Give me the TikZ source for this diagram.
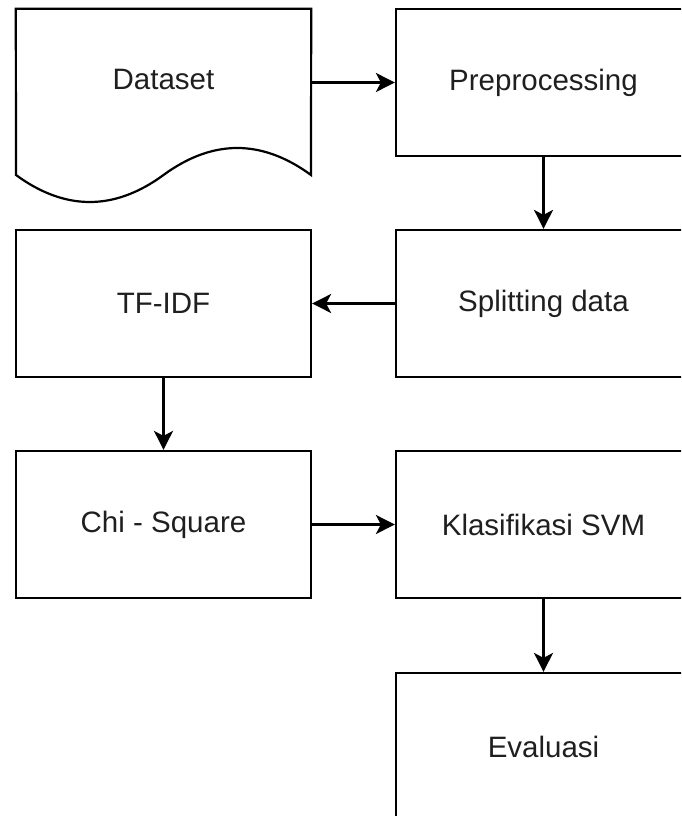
\documentclass[tikz,border=0pt]{standalone}
\usepackage{fontspec}
\setmainfont{Liberation Sans}
\usetikzlibrary{arrows.meta}
\definecolor{txt}{HTML}{1F1F1F}
\begin{document}
\begin{tikzpicture}[x=1pt,y=-1pt,
  box/.style={draw=black, line width=2.2pt, minimum width=295pt, minimum height=147pt, inner sep=0pt, text=txt, font=\fontsize{29.5}{32}\selectfont},
  ghost/.style={minimum width=295pt, minimum height=147pt, inner sep=0pt, text=txt, font=\fontsize{29.5}{32}\selectfont},
  conn/.style={draw=black, line width=2.2pt, -{Stealth[length=19pt,width=19pt,inset=5pt]}}]
\useasboundingbox (0,0) rectangle (681,816);
\clip (0,0) rectangle (681,816);
% Dataset document shape
\node[ghost] (dataset) at (163.5,82.5) {\raisebox{6pt}{Dataset}};
\draw[line width=2.2pt, line join=miter] (dataset.north west) -- (dataset.north east) -- (311,175)
  .. controls (261.8,139) and (212.7,139) .. (163.5,175)
  .. controls (114.3,211) and (65.2,211) .. (16,175) -- cycle;
\node[box] (pre) at (543.5,82.5) {Preprocessing};
\node[box] (split) at (543.5,303.5) {Splitting data};
\node[box] (tfidf) at (163.5,303.5) {TF-IDF};
\node[box] (chi) at (163.5,524.5) {Chi - Square};
\node[box] (svm) at (543.5,524.5) {Klasifikasi SVM};
\node[box] (eval) at (543.5,746.5) {Evaluasi};
\draw[conn] (dataset.east) -- (pre.west);
\draw[conn] (pre.south) -- (split.north);
\draw[conn] (split.west) -- (tfidf.east);
\draw[conn] (tfidf.south) -- (chi.north);
\draw[conn] (chi.east) -- (svm.west);
\draw[conn] (svm.south) -- (eval.north);
\end{tikzpicture}
\end{document}
